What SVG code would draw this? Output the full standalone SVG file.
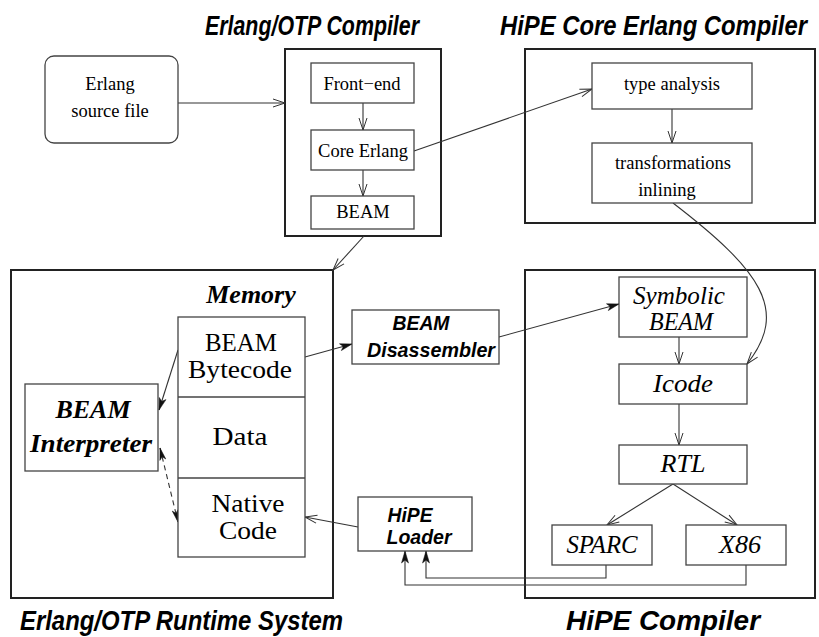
<svg xmlns="http://www.w3.org/2000/svg" width="819" height="637" viewBox="0 0 819 637">
<style>
.bg{fill:#fff}
.outer{fill:none;stroke:#222;stroke-width:2}
.box{fill:#fff;stroke:#444;stroke-width:1.3}
.line{fill:none;stroke:#333;stroke-width:1.1}
.title{font-family:"Liberation Sans",Arial,sans-serif;font-weight:bold;font-style:italic;font-size:22px;fill:#000}
.t{font-family:"Liberation Serif","Times New Roman",serif;font-size:18.5px;fill:#000;text-anchor:middle}
.m{font-family:"Liberation Serif","Times New Roman",serif;font-size:26px;fill:#000;text-anchor:middle}
.it{font-family:"Liberation Serif","Times New Roman",serif;font-style:italic;font-size:25px;fill:#000;text-anchor:middle}
.bi{font-family:"Liberation Serif","Times New Roman",serif;font-style:italic;font-weight:bold;font-size:26px;fill:#000;text-anchor:middle}
.bs{font-family:"Liberation Sans",Arial,sans-serif;font-style:italic;font-weight:bold;font-size:21px;fill:#000;text-anchor:middle}
</style>
<defs>
<marker id="open" markerUnits="userSpaceOnUse" markerWidth="14" markerHeight="10" refX="13" refY="5" orient="auto"><path d="M1,1 L13,5 L1,9" fill="none" stroke="#333" stroke-width="1"/></marker>
<marker id="fill" markerUnits="userSpaceOnUse" markerWidth="14" markerHeight="10" refX="13" refY="5" orient="auto"><path d="M1,1.5 L13,5 L1,8.5 L4,5 z" fill="#111" stroke="#111" stroke-width="0.5"/></marker>
<marker id="fill2" markerUnits="userSpaceOnUse" markerWidth="14" markerHeight="10" refX="13" refY="5" orient="auto-start-reverse"><path d="M1,2 L13,5 L1,8 L4,5 z" fill="#111" stroke="#111" stroke-width="0.5"/></marker>
</defs>
<rect class="bg" x="0" y="0" width="819" height="637"/>

<g id="titles">
<text class="title" transform="translate(205,35) scale(1,1.27)" textLength="214" lengthAdjust="spacingAndGlyphs">Erlang/OTP Compiler</text>
<text class="title" transform="translate(500,35) scale(1,1.27)" textLength="307" lengthAdjust="spacingAndGlyphs">HiPE Core Erlang Compiler</text>
<text class="title" transform="translate(20,630) scale(1,1.27)" textLength="323" lengthAdjust="spacingAndGlyphs">Erlang/OTP Runtime System</text>
<text class="title" transform="translate(566,630) scale(1,1.27)" textLength="194" lengthAdjust="spacingAndGlyphs">HiPE Compiler</text>
</g>

<g id="containers">
<rect id="erlang-otp-compiler" class="outer" x="285" y="49" width="156" height="187"/>
<rect id="hipe-core-erlang-compiler" class="outer" x="525" y="49" width="290" height="174"/>
<rect id="runtime-system" class="outer" x="11" y="270" width="322" height="328"/>
<rect id="hipe-compiler" class="outer" x="525" y="270" width="290" height="328"/>
</g>

<g id="connectors">
<line class="line" x1="178" y1="103" x2="285" y2="103" marker-end="url(#open)"/>
<line class="line" x1="363" y1="103" x2="363" y2="130" marker-end="url(#open)"/>
<line class="line" x1="363" y1="170" x2="363" y2="196" marker-end="url(#open)"/>
<line class="line" x1="414" y1="151" x2="592" y2="89" marker-end="url(#open)"/>
<line class="line" x1="672" y1="109" x2="672" y2="143" marker-end="url(#open)"/>
<line class="line" x1="364" y1="236" x2="333" y2="270" marker-end="url(#open)"/>
<path class="line" d="M673,203 C760,270 790,310 747,364" marker-end="url(#open)"/>
<line class="line" x1="679" y1="337" x2="679" y2="364" marker-end="url(#open)"/>
<line class="line" x1="679" y1="404" x2="679" y2="445" marker-end="url(#open)"/>
<line class="line" x1="673" y1="484" x2="607" y2="525" marker-end="url(#open)"/>
<line class="line" x1="673" y1="484" x2="737" y2="525" marker-end="url(#open)"/>
<line class="line" x1="358" y1="527" x2="305" y2="517" marker-end="url(#open)"/>
<line class="line" x1="178" y1="350" x2="159" y2="410" marker-end="url(#fill)"/>
<line class="line" x1="160" y1="448" x2="178" y2="522" stroke-dasharray="5,4" marker-start="url(#fill2)" marker-end="url(#fill2)"/>
<line class="line" x1="305" y1="357" x2="352" y2="344" marker-end="url(#fill)"/>
<line class="line" x1="499" y1="337" x2="619" y2="304" marker-end="url(#fill)"/>
<polyline class="line" points="606,565 606,578 426,578 426,551" marker-end="url(#fill)"/>
<polyline class="line" points="746,565 746,585 405,585 405,551" marker-end="url(#fill)"/>
</g>

<g id="source-file">
<rect class="box" x="45" y="56" width="133" height="87" rx="9"/>
<text class="t" x="110" y="90">Erlang</text>
<text class="t" x="110" y="117">source file</text>
</g>
<g id="front-end">
<rect class="box" x="311" y="63" width="103" height="40"/>
<text class="t" x="362" y="90">Front−end</text>
</g>
<g id="core-erlang">
<rect class="box" x="311" y="130" width="103" height="40"/>
<text class="t" x="363" y="157">Core Erlang</text>
</g>
<g id="beam">
<rect class="box" x="311" y="196" width="103" height="33"/>
<text class="t" x="363" y="218">BEAM</text>
</g>
<g id="type-analysis">
<rect class="box" x="592" y="63" width="160" height="46"/>
<text class="t" x="672" y="90">type analysis</text>
</g>
<g id="transformations">
<rect class="box" x="592" y="143" width="160" height="60"/>
<text class="t" x="673" y="169">transformations</text>
<text class="t" x="667" y="196">inlining</text>
</g>

<g id="memory">
<text class="bi" x="251" y="303" font-size="25">Memory</text>
<rect class="box" x="178" y="317" width="127" height="240"/>
<line class="box" x1="178" y1="397" x2="305" y2="397"/>
<line class="box" x1="178" y1="478" x2="305" y2="478"/>
</g>
<g id="beam-bytecode">
<text class="m" x="241" y="351" textLength="72" lengthAdjust="spacingAndGlyphs">BEAM</text>
<text class="m" x="240" y="378" textLength="104" lengthAdjust="spacingAndGlyphs">Bytecode</text>
</g>
<g id="data">
<text class="m" x="240" y="445" textLength="55" lengthAdjust="spacingAndGlyphs">Data</text>
</g>
<g id="native-code">
<text class="m" x="248" y="512" textLength="73" lengthAdjust="spacingAndGlyphs">Native</text>
<text class="m" x="248" y="539" textLength="58" lengthAdjust="spacingAndGlyphs">Code</text>
</g>
<g id="beam-interpreter">
<rect class="box" x="25" y="384" width="133" height="87"/>
<text class="bi" x="93" y="418">BEAM</text>
<text class="bi" x="91" y="452" textLength="122" lengthAdjust="spacingAndGlyphs">Interpreter</text>
</g>
<g id="beam-disassembler">
<rect class="box" x="352" y="310" width="147" height="54" stroke-width="1.8"/>
<text class="bs" x="421" y="330" textLength="57" lengthAdjust="spacingAndGlyphs">BEAM</text>
<text class="bs" x="431" y="357" textLength="128" lengthAdjust="spacingAndGlyphs">Disassembler</text>
</g>
<g id="hipe-loader">
<rect class="box" x="358" y="497" width="114" height="54" stroke-width="1.8"/>
<text class="bs" x="410" y="522" textLength="45" lengthAdjust="spacingAndGlyphs">HiPE</text>
<text class="bs" x="419" y="544" textLength="65" lengthAdjust="spacingAndGlyphs">Loader</text>
</g>

<g id="symbolic-beam">
<rect class="box" x="619" y="277" width="128" height="60"/>
<text class="it" x="679" y="304" textLength="92" lengthAdjust="spacingAndGlyphs">Symbolic</text>
<text class="it" x="681" y="330" textLength="64" lengthAdjust="spacingAndGlyphs">BEAM</text>
</g>
<g id="icode">
<rect class="box" x="619" y="364" width="128" height="40"/>
<text class="it" x="683" y="392" font-size="27" textLength="60" lengthAdjust="spacingAndGlyphs">Icode</text>
</g>
<g id="rtl">
<rect class="box" x="619" y="445" width="128" height="39"/>
<text class="it" x="683" y="472" font-size="27" textLength="45" lengthAdjust="spacingAndGlyphs">RTL</text>
</g>
<g id="sparc">
<rect class="box" x="552" y="525" width="100" height="40"/>
<text class="it" x="602" y="553" textLength="71" lengthAdjust="spacingAndGlyphs">SPARC</text>
</g>
<g id="x86">
<rect class="box" x="686" y="525" width="100" height="40"/>
<text class="it" x="740" y="553" textLength="42" lengthAdjust="spacingAndGlyphs">X86</text>
</g>
</svg>
